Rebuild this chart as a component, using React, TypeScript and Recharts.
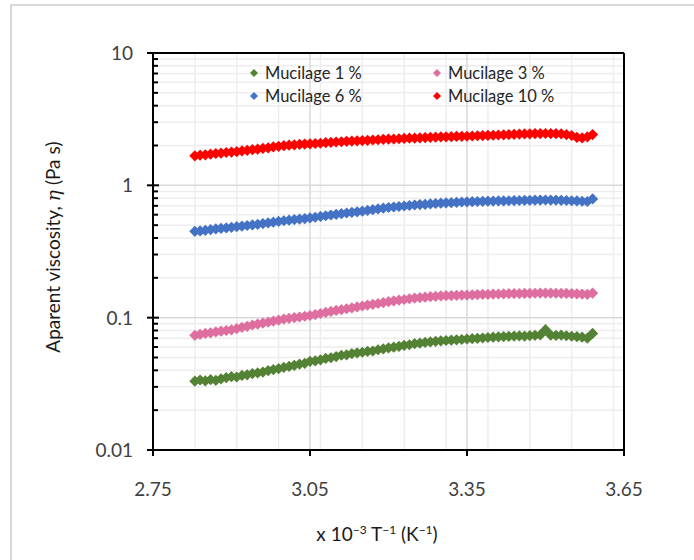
import React from 'react';
import {
  ScatterChart,
  Scatter,
  XAxis,
  YAxis,
  CartesianGrid,
  ReferenceLine
} from 'recharts';

// 1/T values (x 10^-3 K^-1), shared by all series
const invT = [
  2.83, 2.84, 2.85, 2.86, 2.87, 2.88, 2.89, 2.9, 2.91, 2.92, 2.93, 2.94, 2.95, 2.96, 2.97, 2.98, 2.99,
  3.0, 3.01, 3.02, 3.03, 3.04, 3.05, 3.06, 3.07, 3.08, 3.09, 3.1, 3.11, 3.12, 3.13, 3.14, 3.15, 3.16,
  3.17, 3.18, 3.19, 3.2, 3.21, 3.22, 3.23, 3.24, 3.25, 3.26, 3.27, 3.28, 3.29, 3.3, 3.31, 3.32, 3.33,
  3.34, 3.35, 3.36, 3.37, 3.38, 3.39, 3.4, 3.41, 3.42, 3.43, 3.44, 3.45, 3.46, 3.47, 3.48, 3.49, 3.5,
  3.51, 3.52, 3.53, 3.54, 3.55, 3.56, 3.57, 3.58, 3.59
];

const muc1 = [
  0.0331, 0.0338, 0.0333, 0.034, 0.0336, 0.0345, 0.0352, 0.0358, 0.0356, 0.0366, 0.037, 0.0378, 0.0383,
  0.0388, 0.0398, 0.0405, 0.0412, 0.0421, 0.0428, 0.0436, 0.0445, 0.0452, 0.0468, 0.0472, 0.048, 0.0492,
  0.0498, 0.0508, 0.052, 0.0524, 0.0535, 0.0541, 0.0548, 0.0556, 0.056, 0.0572, 0.058, 0.0592, 0.0598,
  0.0606, 0.0618, 0.0624, 0.0636, 0.0642, 0.065, 0.0656, 0.0662, 0.0668, 0.0672, 0.0676, 0.068, 0.0684,
  0.069, 0.0694, 0.0698, 0.0702, 0.0708, 0.0712, 0.0716, 0.072, 0.0722, 0.0726, 0.0728, 0.0725, 0.0731,
  0.0736, 0.074, 0.0812, 0.0738, 0.0734, 0.0737, 0.073, 0.0724, 0.0718, 0.0712, 0.07, 0.076
];

const muc3 = [
  0.0736, 0.0748, 0.076, 0.0768, 0.078, 0.079, 0.08, 0.081, 0.0826, 0.0845, 0.086, 0.088, 0.0895, 0.091,
  0.0925, 0.0942, 0.0958, 0.0975, 0.0988, 0.1, 0.1012, 0.1025, 0.1038, 0.1055, 0.1075, 0.1095, 0.1115,
  0.1135, 0.115, 0.1168, 0.1185, 0.1205, 0.1225, 0.1245, 0.1262, 0.128, 0.13, 0.132, 0.1338, 0.1355,
  0.1372, 0.139, 0.1405, 0.1418, 0.1428, 0.144, 0.145, 0.146, 0.1465, 0.147, 0.1474, 0.1478, 0.1482,
  0.1488, 0.1494, 0.1498, 0.1502, 0.1507, 0.151, 0.1514, 0.1518, 0.152, 0.1522, 0.1525, 0.1528, 0.153,
  0.1533, 0.1535, 0.1532, 0.153, 0.1527, 0.1524, 0.152, 0.1515, 0.1508, 0.15, 0.1535
];

const muc6 = [
  0.449, 0.452, 0.457, 0.462, 0.468, 0.473, 0.477, 0.482, 0.487, 0.492, 0.497, 0.502, 0.507, 0.514,
  0.52, 0.527, 0.534, 0.54, 0.545, 0.551, 0.556, 0.561, 0.567, 0.574, 0.582, 0.589, 0.597, 0.604, 0.611,
  0.618, 0.624, 0.631, 0.638, 0.646, 0.655, 0.663, 0.672, 0.68, 0.686, 0.692, 0.698, 0.704, 0.71, 0.715,
  0.719, 0.724, 0.729, 0.733, 0.737, 0.74, 0.744, 0.748, 0.751, 0.753, 0.755, 0.757, 0.759, 0.76, 0.762,
  0.763, 0.765, 0.767, 0.768, 0.77, 0.771, 0.773, 0.774, 0.775, 0.774, 0.772, 0.77, 0.768, 0.765, 0.762,
  0.758, 0.755, 0.79
];

const muc10 = [
  1.67, 1.69, 1.7, 1.72, 1.74, 1.75, 1.77, 1.785, 1.8, 1.82, 1.84, 1.86, 1.875, 1.9, 1.92, 1.95, 1.97,
  1.995, 2.01, 2.02, 2.04, 2.05, 2.06, 2.07, 2.08, 2.1, 2.11, 2.125, 2.135, 2.15, 2.16, 2.17, 2.18, 2.19,
  2.2, 2.21, 2.225, 2.235, 2.24, 2.25, 2.26, 2.27, 2.275, 2.285, 2.295, 2.3, 2.31, 2.32, 2.325, 2.33,
  2.34, 2.345, 2.35, 2.36, 2.37, 2.375, 2.385, 2.39, 2.4, 2.41, 2.42, 2.43, 2.44, 2.445, 2.45, 2.46,
  2.46, 2.465, 2.46, 2.455, 2.45, 2.42, 2.38, 2.3, 2.28, 2.32, 2.42
];

const xTicks = [2.75, 3.05, 3.35, 3.65];
const xMinor = [2.83, 2.91, 2.99, 3.07, 3.15, 3.23, 3.31, 3.39, 3.47, 3.55, 3.63];
const yTicks = [0.01, 0.1, 1, 10];
const yMinor = [
  0.02, 0.03, 0.04, 0.05, 0.06, 0.07, 0.08, 0.09,
  0.2, 0.3, 0.4, 0.5, 0.6, 0.7, 0.8, 0.9,
  2, 3, 4, 5, 6, 7, 8, 9
];

const series = [
  { name: 'Mucilage 1 %', values: muc1, color: '#548235' },
  { name: 'Mucilage 3 %', values: muc3, color: '#DE6E9F' },
  { name: 'Mucilage 6 %', values: muc6, color: '#4472C4' },
  { name: 'Mucilage 10 %', values: muc10, color: '#FF0000' }
];

const FONT = 'Lato, "Open Sans", sans-serif';

const Diamond = (props: any) => {
  const { cx, cy, fill } = props;
  const r = 5.6;
  return <path d={`M${cx},${cy - r}L${cx + r},${cy}L${cx},${cy + r}L${cx - r},${cy}Z`} fill={fill} />;
};

const YTick = ({ x, y, payload }: any) => {
  const v = payload.value;
  const major = yTicks.includes(v);
  return (
    <g>
      {major ? (
        <line x1={x - 6} x2={x + 6} y1={y} y2={y} stroke="#000" strokeWidth={2} />
      ) : (
        <line x1={x} x2={x + 5} y1={y} y2={y} stroke="#000" strokeWidth={2} />
      )}
      {major && (
        <text x={x - 20} y={y + 7} textAnchor="end" fontSize={19} fill="#404040" fontFamily={FONT}>
          {String(v)}
        </text>
      )}
    </g>
  );
};

const XTick = ({ x, y, payload }: any) => (
  <text x={x} y={y + 40} textAnchor="middle" fontSize={19} fill="#404040" fontFamily={FONT}>
    {payload.value.toFixed(2)}
  </text>
);

// legend: 2 columns, drawn over the plot
const LegendBox = () => (
  <div
    style={{
      position: 'absolute',
      left: 248,
      top: 63,
      display: 'grid',
      gridTemplateColumns: '183px 183px',
      rowGap: 3,
      fontFamily: FONT,
      fontSize: 16.5,
      color: '#262626'
    }}
  >
    {series.map((s) => (
      <div key={s.name} style={{ display: 'flex', alignItems: 'center', height: 20 }}>
        <svg width={12} height={12} style={{ marginRight: 5 }}>
          <path d="M6,2L10,6L6,10L2,6Z" fill={s.color} />
        </svg>
        <span>{s.name}</span>
      </div>
    ))}
  </div>
);

export default function App() {
  return (
    <div
      style={{
        position: 'absolute',
        left: 0,
        top: 0,
        width: 694,
        height: 560,
        overflow: 'hidden',
        background: '#fff'
      }}
    >
      {/* outer chart frame */}
      <div
        style={{
          position: 'absolute',
          left: 10,
          top: 4,
          width: 720,
          height: 600,
          border: '2px solid #d9d9d9',
          boxSizing: 'border-box'
        }}
      />
      <div style={{ position: 'absolute', left: 0, top: 0 }}>
        <ScatterChart width={694} height={560} margin={{ top: 53, right: 70, bottom: 80, left: 93 }}>
          <CartesianGrid stroke="#ededed" strokeWidth={1.5} horizontalValues={yMinor} verticalValues={xMinor} />
          <CartesianGrid stroke="#d9d9d9" strokeWidth={1.5} horizontalValues={[0.1, 1]} verticalValues={[3.05, 3.35]} />
          <XAxis
            type="number"
            dataKey="x"
            domain={[2.75, 3.65]}
            ticks={xTicks}
            interval={0}
            height={30}
            allowDataOverflow
            axisLine={{ stroke: '#000', strokeWidth: 2 }}
            tickLine={{ stroke: '#000', strokeWidth: 2 }}
            tickSize={6}
            tickMargin={0}
            tick={<XTick />}
          />
          <YAxis
            type="number"
            dataKey="y"
            scale="log"
            domain={[0.01, 10]}
            ticks={[...yTicks, ...yMinor]}
            interval={0}
            width={60}
            allowDataOverflow
            axisLine={{ stroke: '#000', strokeWidth: 2 }}
            tickLine={false}
            tickSize={0}
            tickMargin={0}
            tick={<YTick />}
          />
          <ReferenceLine y={10} stroke="#000" strokeWidth={2} />
          <ReferenceLine x={3.65} stroke="#000" strokeWidth={2} />
          {series.map((s) => (
            <Scatter
              key={s.name}
              name={s.name}
              data={invT.map((x, i) => ({ x, y: s.values[i] }))}
              fill={s.color}
              shape={<Diamond />}
              isAnimationActive={false}
            />
          ))}
        </ScatterChart>
      </div>
      <LegendBox />
      <svg width={694} height={560} style={{ position: 'absolute', left: 0, top: 0, pointerEvents: 'none' }}>
        <text
          transform="translate(60,247) rotate(-90)"
          textAnchor="middle"
          fontSize={19}
          fill="#1a1a1a"
          fontFamily={FONT}
        >
          Aparent viscosity,{' '}
          <tspan fontStyle="italic" fontFamily='"DejaVu Serif", serif'>
            η
          </tspan>
          {' '}(Pa s)
        </text>
        <text x={377} y={541} textAnchor="middle" fontSize={19} fill="#1a1a1a" fontFamily={FONT}>
          x 10
          <tspan dy={-7} fontSize={12}>−3</tspan>
          <tspan dy={7}> T</tspan>
          <tspan dy={-7} fontSize={12}>−1</tspan>
          <tspan dy={7}> (K</tspan>
          <tspan dy={-7} fontSize={12}>−1</tspan>
          <tspan dy={7}>)</tspan>
        </text>
      </svg>
    </div>
  );
}
